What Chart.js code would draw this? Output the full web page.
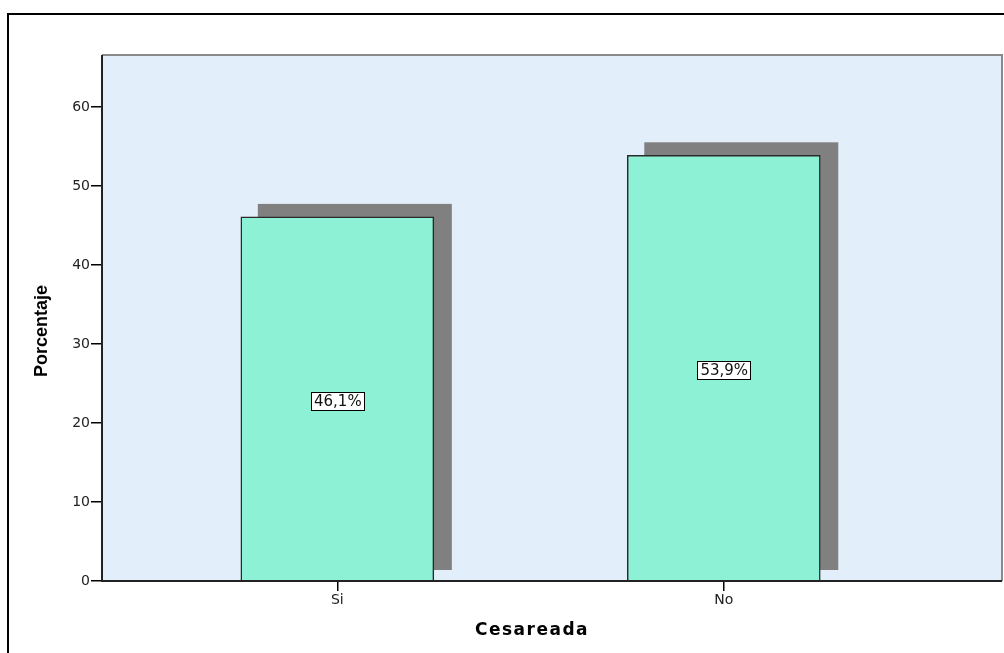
<!DOCTYPE html>
<html>
<head>
<meta charset="utf-8">
<script src="https://cdn.jsdelivr.net/npm/chart.js@4/dist/chart.umd.min.js"></script>
<style>
  html, body { margin: 0; padding: 0; background: #fff; }
  #wrap { position: relative; width: 1004px; height: 653px; }
</style>
</head>
<body>
<div id="wrap"><canvas id="c" width="1004" height="653"></canvas></div>
<script>
// Cesareada: percentage per category
const categories = ['Si', 'No'];
const percentages = [46.1, 53.9];
const yTicks = [0, 10, 20, 30, 40, 50, 60];

const FONT = '"DejaVu Sans", Verdana, sans-serif';
const TITLE_FONT = '"Liberation Sans", Arial, sans-serif';

// Drop shadow behind each bar, outer frame, value boxes and axis titles
const decorations = {
  id: 'decorations',
  beforeDatasetsDraw(chart) {
    const ctx = chart.ctx;
    const meta = chart.getDatasetMeta(0);
    const base = chart.scales.y.getPixelForValue(0);
    ctx.save();
    ctx.fillStyle = '#808080';
    meta.data.forEach(bar => {
      const w = bar.width;
      const left = bar.x - w / 2 + 17;
      const top = bar.y - 13;
      ctx.fillRect(left, top, w + 1, (base - 11) - top);
    });
    ctx.restore();
  },
  afterDatasetsDraw(chart) {
    const ctx = chart.ctx;
    const meta = chart.getDatasetMeta(0);
    const y = chart.scales.y;
    ctx.save();
    ctx.font = '15px ' + FONT;
    ctx.textAlign = 'center';
    ctx.textBaseline = 'middle';
    meta.data.forEach((bar, i) => {
      const v = percentages[i];
      const txt = v.toFixed(1).replace('.', ',') + '%';
      const cy = y.getPixelForValue(v / 2) + 2;
      const tw = ctx.measureText(txt).width;
      const bw = Math.round(tw + 5), bh = 18;
      const bx = Math.round(bar.x - bw / 2), by = Math.round(cy - bh / 2);
      ctx.fillStyle = '#fff';
      ctx.fillRect(bx, by, bw, bh);
      ctx.strokeStyle = '#000';
      ctx.lineWidth = 1;
      ctx.strokeRect(bx + 0.5, by + 0.5, bw, bh);
      ctx.fillStyle = '#111';
      ctx.fillText(txt, bar.x + 0.5, cy + 1);
    });
    ctx.restore();
  },
  afterDraw(chart) {
    const ctx = chart.ctx;
    const a = chart.chartArea;
    ctx.save();
    // plot frame: gray top/right, black left/bottom
    ctx.strokeStyle = '#8a8a8a';
    ctx.lineWidth = 2;
    ctx.beginPath();
    ctx.moveTo(a.left, a.top);
    ctx.lineTo(a.right, a.top);
    ctx.lineTo(a.right, a.bottom);
    ctx.stroke();
    ctx.strokeStyle = '#222';
    ctx.lineWidth = 2;
    ctx.beginPath();
    ctx.moveTo(a.left, a.top);
    ctx.lineTo(a.left, a.bottom);
    ctx.lineTo(a.right, a.bottom);
    ctx.stroke();
    // outer frame
    ctx.strokeStyle = '#000';
    ctx.lineWidth = 2;
    ctx.beginPath();
    ctx.moveTo(8, 653);
    ctx.lineTo(8, 14);
    ctx.lineTo(1004, 14);
    ctx.stroke();
    // axis titles
    ctx.fillStyle = '#000';
    ctx.font = 'bold 17px ' + FONT;
    ctx.textAlign = 'center';
    ctx.textBaseline = 'middle';
    ctx.letterSpacing = '1.5px';
    ctx.fillText('Cesareada', 532, 631);
    ctx.letterSpacing = '0px';
    ctx.translate(42, 331);
    ctx.rotate(-Math.PI / 2);
    ctx.font = 'bold 18px ' + TITLE_FONT;
    ctx.fillText('Porcentaje', 0, 0);
    ctx.restore();
  }
};

const plotBg = {
  id: 'plotBg',
  beforeDraw(chart) {
    const a = chart.chartArea;
    chart.ctx.save();
    chart.ctx.fillStyle = '#E2EEFA';
    chart.ctx.fillRect(a.left, a.top, a.right - a.left, a.bottom - a.top);
    chart.ctx.restore();
  }
};

new Chart(document.getElementById('c'), {
  type: 'bar',
  data: {
    datasets: [{
      data: categories.map((c, i) => ({ x: i, y: percentages[i] })),
      backgroundColor: '#8DF2D5',
      borderColor: '#2a2a2a',
      borderWidth: 1.5,
      borderSkipped: 'bottom',
      barThickness: 193
    }]
  },
  options: {
    responsive: false,
    animation: false,
    layout: { padding: { top: 55, right: 2, left: 0, bottom: 0 } },
    plugins: { legend: { display: false }, tooltip: { enabled: false } },
    scales: {
      x: {
        type: 'linear',
        offset: false,
        min: -0.609,
        max: 1.72,
        afterBuildTicks(scale) { scale.ticks = categories.map((c, i) => ({ value: i })); },
        afterFit(scale) { scale.height = 72; },
        grid: { display: true, offset: false, drawOnChartArea: false, drawTicks: true, tickLength: 10, tickColor: '#000', lineWidth: 1.5 },
        border: { display: false },
        ticks: {
          callback: v => categories[v] ?? '',
          color: '#222',
          font: { family: FONT, size: 14 },
          padding: 1,
          maxRotation: 0
        }
      },
      y: {
        min: 0,
        max: 66.6,
        afterBuildTicks(scale) { scale.ticks = yTicks.map(v => ({ value: v })); },
        afterFit(scale) { scale.width = 102; },
        grid: { display: true, drawOnChartArea: false, drawTicks: true, tickLength: 11, tickColor: '#000', lineWidth: 1.5 },
        border: { display: false },
        ticks: {
          color: '#222',
          font: { family: FONT, size: 14 },
          padding: 1
        }
      }
    }
  },
  plugins: [plotBg, decorations]
});
</script>
</body>
</html>
